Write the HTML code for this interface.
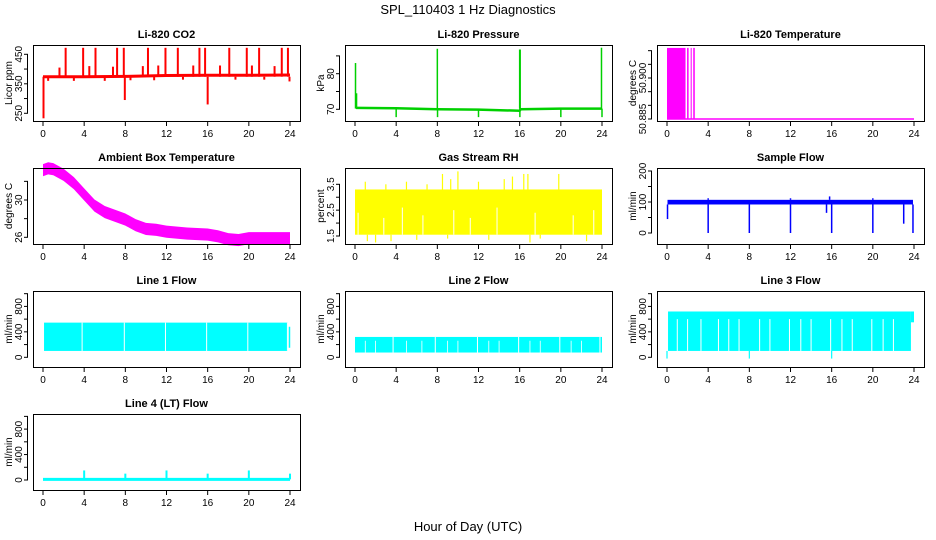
<!DOCTYPE html>
<html><head><meta charset="utf-8"><style>
html,body{margin:0;padding:0;background:#fff;}
svg{display:block;font-family:"Liberation Sans",sans-serif;}
</style></head><body>
<svg id="c" width="936" height="540" xmlns="http://www.w3.org/2000/svg">
<text x="468" y="14" text-anchor="middle" font-size="13">SPL_110403  1 Hz Diagnostics</text>
<text x="468" y="531" text-anchor="middle" font-size="13">Hour of Day (UTC)</text>
</svg>
<script>
const hourTicks=[0,4,8,12,16,20,24];
// CO2
const co2BaseHours=[0,4,8,12,16,20,24];
const co2BaseVals=[374,374,375,378,379,379,380];
const co2SpikeHours=[2.2,3.9,5.1,7.2,7.85,10.2,11.9,13.1,15.2,15.75,18.1,19.8,21.0,23.2,23.8,1.6,4.5,6.8,9.7,11.2,14.6,17.2,20.3,22.5,0.05,7.95,16.0,0.5,3.0,6.0,8.5,10.8,13.6,18.7,21.5,23.95];
const co2SpikeVals=[472,472,472,472,472,472,472,472,472,472,472,472,472,472,472,405,410,408,410,412,412,412,412,410,233,295,280,360,360,360,362,362,364,364,364,358];
// Pressure
const presBaseHours=[0.1,4,8,12,16,16.1,20,24];
const presBaseVals=[70.4,70.3,70.0,69.9,69.6,70.0,70.2,70.2];
const presSpikeHours=[0.05,0.15,8,16,16.05,23.95,4,8.02,12,16.02,20,24];
const presSpikeVals=[83,74.5,87,86.8,86.8,87.3,67.8,67.8,67.8,67.8,67.8,67.8];
// Li-820 temperature
const tempHighStart=[0,1.95,2.3,2.55];
const tempHighEnd=[1.8,2.1,2.4,2.7];
const tempHigh=50.911, tempBase=50.885;
// Ambient
const ambHours=[0,0.5,1,2,3,4,5,6,7,8,9,10,11,12,14,16,17,18,19,20,22,24];
const ambVals=[33.2,33.4,33.3,32.7,31.8,30.6,29.4,28.7,28.3,27.9,27.3,26.9,26.8,26.6,26.4,26.3,26.1,25.8,25.7,25.9,25.9,25.9];
// RH
const rhLow=1.55, rhHigh=3.3;
const rhUpHours=[1,3,5,7,8.5,9.3,10,12,14.5,15.3,16.4,16.8,19.8];
const rhUpVals=[3.6,3.5,3.6,3.5,3.9,3.7,4.0,3.6,3.7,3.8,3.9,3.9,3.9];
const rhDownHours=[1.2,2,3.5,6,9,13,17,18,22.5];
const rhDownVals=[1.3,1.25,1.3,1.35,1.4,1.35,1.25,1.4,1.3];
const rhGapHours=[0.3,2.8,4.6,6.6,9.6,11.2,13.8,17.5,21.2,23.2];
const rhGapTop=[2.4,2.2,2.6,2.3,2.5,2.2,2.6,2.4,2.3,2.5];
// Sample flow
const sfLow=92, sfHigh=107;
const sfDipHours=[4,8,12,16,20,23.9,15.5,23.0,0.05];
const sfDipVals=[0,0,0,0,0,0,65,30,45];
const sfUpHours=[4,12,15.8,20];
const sfUpVals=[112,112,118,112];
// Line flows
const l1Low=100, l1High=545;
const l1GapHours=[3.8,7.9,11.9,15.9,19.9,23.75];
const l2Low=75, l2High=320;
const l2GapHours=[3.7,7.8,11.9,15.9,19.9,23.8];
const l2PartHours=[1,2,5,6.5,9,10,13,14,17,18,21,22];
const l3Low=100, l3High=720;
const l3PartHours=[1,2,3.3,5,6,7,9,10,11.9,13,14,15.9,17,18,19.9,21,22];
const l3DownHours=[0,8,16];
const l4Base=10;
const l4SpikeHours=[2.7,4,8,12,16,20,24];
const l4SpikeVals=[20,150,100,150,100,150,100];

const NS="http://www.w3.org/2000/svg";
const svg=document.getElementById('c');
function el(tag,attrs,parent){const e=document.createElementNS(NS,tag);for(const k in attrs)e.setAttribute(k,attrs[k]);(parent||svg).appendChild(e);return e;}

function panel(name,title,col,row,ylab,v0,p0,v1,p1,ticks,labels,fmt){
  const L=33+col*312, T=45+row*123, W=267, H=76;
  const g=el('g',{});
  
  
  const X=h=>L+10+h*247/24;
  const Y=v=>p0+(v-v0)*(p1-p0)/(v1-v0);
  const t=el('text',{x:L+W/2,y:T-7,'text-anchor':'middle','font-size':11,'font-weight':'bold'},g);
  t.textContent=title;
  
  
  const plot=el('g',{},g);
  
  
  const fr=el('rect',{x:L+0.5,y:T+0.5,width:W,height:H,fill:'none',stroke:'#000','stroke-width':1},g);
  
  
  const xa=el('g',{},g);
  
  
  el('line',{x1:X(0),x2:X(24),y1:T+H+0.5,y2:T+H+0.5,stroke:'#000'},xa);
  hourTicks.forEach(h=>{
    el('line',{x1:X(h),x2:X(h),y1:T+H,y2:T+H+5,stroke:'#000'},xa);
    const tx=el('text',{x:X(h),y:T+H+16,'text-anchor':'middle','font-size':10},xa);
    tx.textContent=h;
    
    
  });
  const ya=el('g',{},g);
  
  
  el('line',{x1:L-5.5,x2:L-5.5,y1:Y(ticks[0]),y2:Y(ticks[ticks.length-1]),stroke:'#000'},ya);
  ticks.forEach(v=>el('line',{x1:L-9,x2:L-5,y1:Y(v),y2:Y(v),stroke:'#000'},ya));
  labels.forEach(v=>{
    const y=Y(v), lx=L-11;
    const tx=el('text',{x:lx,y:y,'text-anchor':'middle','font-size':10,transform:`rotate(-90 ${lx} ${y})`},ya);
    tx.textContent=fmt?fmt(v):v;
    
    
  });
  const tx0=L-21;
  const yl=el('text',{x:tx0,y:T+H/2,'text-anchor':'middle','font-size':10,transform:`rotate(-90 ${tx0} ${T+H/2})`},g);
  yl.textContent=ylab;
  
  
  return {X,Y,plot};
}
function vline(p,x,y1,y2,c,w){el('line',{x1:x,x2:x,y1:y1,y2:y2,stroke:c,'stroke-width':w||1.5},p);}
function band(p,X,Y,h0,h1,lo,hi,c){el('rect',{x:X(h0),y:Y(hi),width:X(h1)-X(h0),height:Y(lo)-Y(hi),fill:c},p);}

// CO2
let P=panel('co2','Li-820 CO2',0,0,'Licor ppm',250,113.3,450,54.3,[250,300,350,400,450],[250,350,450]);
co2SpikeHours.forEach((h,i)=>{let b=P.Y(co2BaseVals[0]);vline(P.plot,P.X(h),b,P.Y(co2SpikeVals[i]),'#f00',2);});
el('polyline',{points:co2BaseHours.map((h,i)=>P.X(h)+','+P.Y(co2BaseVals[i])).join(' '),fill:'none',stroke:'#f00','stroke-width':3},P.plot);
// Pressure
P=panel('pressure','Li-820 Pressure',1,0,'kPa',70,109.3,80,73.7,[70,75,80,85],[70,80]);
presSpikeHours.forEach((h,i)=>vline(P.plot,P.X(h),P.Y(70.2),P.Y(presSpikeVals[i]),'#00d000',1.5));
el('polyline',{points:presBaseHours.map((h,i)=>P.X(h)+','+P.Y(presBaseVals[i])).join(' '),fill:'none',stroke:'#00d000','stroke-width':2.5},P.plot);
// Temp
P=panel('li820-temp','Li-820 Temperature',2,0,'degrees C',50.885,119,50.900,78,[50.885,50.890,50.895,50.900,50.905,50.910],[50.885,50.900],v=>v.toFixed(3));
tempHighStart.forEach((h,i)=>band(P.plot,P.X,P.Y,h,tempHighEnd[i],tempBase,tempHigh,'#f0f'));
el('line',{x1:P.X(0),x2:P.X(24),y1:P.Y(tempBase),y2:P.Y(tempBase),stroke:'#f0f','stroke-width':1.5},P.plot);
// Ambient
P=panel('ambient-temp','Ambient Box Temperature',0,1,'degrees C',26,237.3,30,200,[26,28,30,32],[26,30]);
el('polygon',{points:ambHours.map((h,i)=>P.X(h)+','+P.Y(ambVals[i]+0.65)).concat(ambHours.slice().reverse().map((h,j)=>{const i=ambHours.length-1-j;return P.X(h)+','+P.Y(ambVals[i]-0.65);})).join(' '),fill:'#f0f'},P.plot);
// RH
P=panel('gas-rh','Gas Stream RH',1,1,'percent',1.5,236,3.5,184.3,[1.5,2,2.5,3,3.5],[1.5,2.5,3.5]);
band(P.plot,P.X,P.Y,0,24,rhLow,rhHigh,'#ff0');
rhUpHours.forEach((h,i)=>vline(P.plot,P.X(h),P.Y(rhHigh),P.Y(rhUpVals[i]),'#ff0',1.2));
rhDownHours.forEach((h,i)=>vline(P.plot,P.X(h),P.Y(rhLow),P.Y(rhDownVals[i]),'#ff0',1.2));
rhGapHours.forEach((h,i)=>vline(P.plot,P.X(h),P.Y(rhLow),P.Y(rhGapTop[i]),'#fff',1));
// Sample flow
P=panel('sample-flow','Sample Flow',2,1,'ml/min',0,233,200,171,[0,50,100,150,200],[0,100,200]);
band(P.plot,P.X,P.Y,0.05,23.9,sfLow,sfHigh,'#00f');
sfDipHours.forEach((h,i)=>vline(P.plot,P.X(h),P.Y(sfLow),P.Y(sfDipVals[i]),'#00f',1.5));
sfUpHours.forEach((h,i)=>vline(P.plot,P.X(h),P.Y(sfHigh),P.Y(sfUpVals[i]),'#00f',1.5));
// Line flows
const ft=[0,200,400,600,800,1000], fl=[0,400,800];
P=panel('line1-flow','Line 1 Flow',0,2,'ml/min',0,357.3,800,306.4,ft,fl);
band(P.plot,P.X,P.Y,0.1,23.8,l1Low,l1High,'#0ff');
vline(P.plot,P.X(23.95),P.Y(l1Low+50),P.Y(480),'#0ff',1.5);
l1GapHours.forEach(h=>vline(P.plot,P.X(h),P.Y(l1Low),P.Y(l1High),'#fff',1));
P=panel('line2-flow','Line 2 Flow',1,2,'ml/min',0,357.3,800,306.4,ft,fl);
band(P.plot,P.X,P.Y,0,24,l2Low,l2High,'#0ff');
l2GapHours.forEach(h=>vline(P.plot,P.X(h),P.Y(l2Low),P.Y(l2High),'#fff',1));
l2PartHours.forEach(h=>vline(P.plot,P.X(h),P.Y(l2Low),P.Y(l2High-60),'#fff',0.8));
P=panel('line3-flow','Line 3 Flow',2,2,'ml/min',0,357.3,800,306.4,ft,fl);
band(P.plot,P.X,P.Y,0.1,23.7,l3Low,l3High,'#0ff');
band(P.plot,P.X,P.Y,23.7,24,l3Low+450,l3High,'#0ff');
l3PartHours.forEach(h=>vline(P.plot,P.X(h),P.Y(l3Low),P.Y(l3High-120),'#fff',1));
l3DownHours.forEach(h=>vline(P.plot,P.X(h),P.Y(l3Low),P.Y(-20),'#0ff',1.2));
P=panel('line4-flow','Line 4 (LT) Flow',0,3,'ml/min',0,480,800,429.1,ft,fl);
el('line',{x1:P.X(0),x2:P.X(24),y1:P.Y(l4Base),y2:P.Y(l4Base),stroke:'#0ff','stroke-width':3},P.plot);
l4SpikeHours.forEach((h,i)=>vline(P.plot,P.X(h),P.Y(l4Base),P.Y(l4SpikeVals[i]),'#0ff',2));
</script>
</body></html>
